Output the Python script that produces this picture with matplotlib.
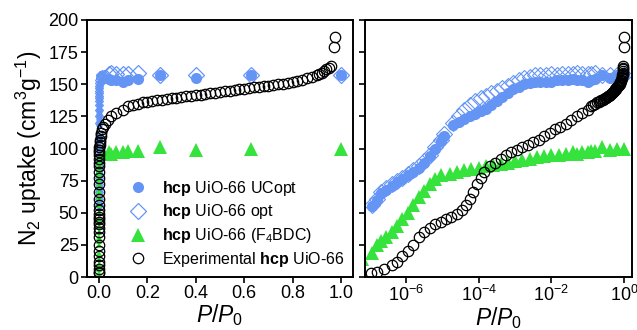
import matplotlib
matplotlib.use("Agg")
import matplotlib.pyplot as plt
import numpy as np
from matplotlib.ticker import NullLocator, LogFormatterSciNotation

plt.rcParams['font.family'] = ['Liberation Sans', 'DejaVu Sans']
plt.rcParams['mathtext.fontset'] = 'custom'
plt.rcParams['mathtext.rm'] = 'Liberation Sans'
plt.rcParams['mathtext.it'] = 'Liberation Sans:italic'
plt.rcParams['mathtext.bf'] = 'Liberation Sans:bold'

# simulated isotherms (P/P0, uptake in cm3/g)
p_sim = [1.12e-7, 1.58e-7, 2.0e-7, 2.82e-7, 3.98e-7, 5.62e-7, 7.94e-7, 1.12e-6,
         1.58e-6, 2.24e-6, 3.16e-6, 4.47e-6, 6.31e-6, 8.91e-6, 1.12e-5, 2.0e-5,
         2.82e-5, 3.98e-5, 5.62e-5, 7.94e-5, 1.12e-4, 1.58e-4, 2.24e-4, 3.16e-4,
         4.47e-4, 6.31e-4, 8.91e-4, 1.26e-3, 1.78e-3, 2.51e-3, 3.55e-3, 5.01e-3,
         7.08e-3, 0.01, 0.0141, 0.02, 0.0282, 0.04, 0.05, 0.07, 0.1, 0.12, 0.16,
         0.25, 0.4, 0.63, 1.0]
n_ucopt = [55, 60, 65, 68, 71, 74, 76, 79, 82, 85, 89, 94, 100, 106, 110, 118,
           121, 123, 125, 127, 129, 131, 134, 137, 140, 143, 146, 148, 150, 151,
           152, 152, 152, 152, 153, 153, 153, 154, 153, 153, 152, 153, 154,
           157, 155, 157, 157]
n_opt = [56, 61, 66, 69, 72, 75, 77, 80, 83, 86, 90, 95, 101, 107, 111, 120,
         125, 130, 134, 137, 139, 141, 143, 145, 147, 149, 151, 153, 155, 156,
         157, 157, 157, 158, 157, 158, 158, 158, 159, 158, 158, 158, 159,
         157, 157, 157, 157]

p_f4 = [1.0e-8, 2.0e-8, 3.5e-8, 6.0e-8,
        1.12e-7, 1.58e-7, 2.0e-7, 2.82e-7, 3.98e-7, 5.62e-7, 7.94e-7, 1.12e-6,
        1.58e-6, 2.24e-6, 3.16e-6, 4.47e-6, 6.31e-6, 8.91e-6, 1.58e-5, 2.51e-5,
        3.98e-5, 6.31e-5, 1.0e-4, 1.58e-4, 2.51e-4, 3.98e-4, 6.31e-4, 1.0e-3,
        1.58e-3, 2.51e-3, 3.98e-3, 6.31e-3, 0.01, 0.0158, 0.0251, 0.04, 0.05,
        0.07, 0.1, 0.12, 0.16, 0.25, 0.4, 0.63, 1.0]
n_f4 = [3, 6, 10, 14,
        19, 25, 28, 31, 35, 40, 45, 50, 56, 62, 67, 72, 76, 79, 80, 82, 83, 84,
        85, 86, 87, 88, 89, 90, 91, 92, 93, 94, 95, 95, 96, 97, 96, 97, 97, 98,
        98, 101, 99, 100, 100]

# experimental isotherm
p_exp = [1.07e-7, 1.58e-7, 2.51e-7, 3.98e-7, 5.62e-7, 7.94e-7, 1.12e-6, 1.58e-6,
         2.24e-6, 3.16e-6, 4.47e-6, 6.31e-6, 8.91e-6, 1.26e-5, 1.78e-5, 2.51e-5,
         3.55e-5, 4.47e-5, 5.62e-5, 7.08e-5, 8.91e-5, 1.12e-4, 1.41e-4, 2.0e-4,
         2.82e-4, 3.98e-4, 5.62e-4, 7.94e-4, 1.12e-3, 1.58e-3, 2.24e-3, 3.16e-3,
         4.47e-3, 6.31e-3, 8.91e-3, 0.0126, 0.0178, 0.0251, 0.0355, 0.0501,
         0.0708, 0.1, 0.12, 0.14, 0.16, 0.18, 0.2, 0.22, 0.24, 0.26, 0.28, 0.3,
         0.32, 0.34, 0.36, 0.38, 0.4, 0.42, 0.44, 0.46, 0.48, 0.5, 0.52, 0.54,
         0.56, 0.58, 0.6, 0.62, 0.64, 0.66, 0.68, 0.7, 0.72, 0.74, 0.76, 0.78,
         0.8, 0.82, 0.84, 0.86, 0.88, 0.9, 0.91, 0.92, 0.93, 0.94, 0.95, 0.96,
         0.97, 0.975]
n_exp = [3, 4, 6, 9, 12, 16, 20, 25, 31, 35, 38, 41, 43, 45, 47, 49, 52, 56,
         61, 66, 72, 77, 82, 86, 89, 92, 95, 97, 99, 101, 103, 105, 107, 110,
         112, 115, 117, 119, 122, 125, 128, 130, 133, 134, 135, 136, 136.5, 137,
         137.5, 138, 138.5, 139, 139.5, 140, 140.5, 141, 141.5, 142, 142.5, 143,
         143.5, 144, 144.5, 145, 145.5, 146, 146.5, 147, 147.5, 148, 148.5, 149,
         149.5, 150, 150.5, 151, 151.5, 152.5, 153.5, 154.5, 155.5, 157, 158,
         159, 160, 161.5, 163, 164, 179, 187]

blue = '#6495F5'
green = '#36E23C'
labels = [r'$\mathbf{hcp}$ UiO-66 UCopt', r'$\mathbf{hcp}$ UiO-66 opt',
          r'$\mathbf{hcp}$ UiO-66 (F$_4$BDC)', r'Experimental $\mathbf{hcp}$ UiO-66']

fig = plt.figure(figsize=(6.37, 3.3), dpi=100)
ax1 = fig.add_axes([87/637, 53/330, 266/637, 257/330])
ax2 = fig.add_axes([365/637, 53/330, 267/637, 257/330])

ps = np.array(p_sim)
pf = np.array(p_f4)
lo = ps < 0.04
lof = pf < 0.04

# left panel, linear
ax1.plot(ps[lo], np.array(n_ucopt)[lo], 'o', color=blue, ms=4.5, mew=0)
ax1.plot(ps[~lo], np.array(n_ucopt)[~lo], 'o', color=blue, ms=8, mew=0, label=labels[0])
ax1.plot(ps[lo], np.array(n_opt)[lo], 'D', mfc='none', mec=blue, ms=4, mew=0.9)
ax1.plot(ps[~lo], np.array(n_opt)[~lo], 'D', mfc='none', mec=blue, ms=8, mew=0.9, label=labels[1])
ax1.plot(pf[lof], np.array(n_f4)[lof], '^', color=green, ms=4.5, mew=0)
ax1.plot(pf[~lof], np.array(n_f4)[~lof], '^', color=green, ms=9.5, mew=0, label=labels[2])
ax1.plot(p_exp, n_exp, 'o', mfc='none', mec='black', ms=7.5, mew=0.9, label=labels[3])

# right panel, log
ax2.plot(p_sim, n_ucopt, 'o', color=blue, ms=8, mew=0)
ax2.plot(p_sim, n_opt, 'D', mfc='none', mec=blue, ms=8, mew=0.8)
ax2.plot(p_f4, n_f4, '^', color=green, ms=9.5, mew=0)
ax2.plot(p_exp, n_exp, 'o', mfc='none', mec='black', ms=7.5, mew=0.9)

ax1.set_xlim(-0.05, 1.05)
ax1.set_ylim(0, 200)
ax1.set_xticks([0, 0.2, 0.4, 0.6, 0.8, 1.0])
ax1.set_xticklabels(['0.0', '0.2', '0.4', '0.6', '0.8', '1.0'])
ax1.set_yticks(range(0, 201, 25))
ax1.set_ylabel(r'N$_2$ uptake (cm$^3$g$^{-1}$)', fontsize=16.5, labelpad=3)
ax1.set_xlabel(r'$P/P_0$', fontsize=16.5, labelpad=0)

ax2.set_xscale('log')
ax2.set_xlim(7.4e-8, 1.66)
ax2.set_ylim(0, 200)
ax2.set_xticks([1e-6, 1e-4, 1e-2, 1])
ax2.xaxis.set_major_formatter(LogFormatterSciNotation())
ax2.xaxis.set_minor_locator(NullLocator())
ax2.set_yticks(range(0, 201, 25))
ax2.set_yticklabels([])
ax2.set_xlabel(r'$P/P_0$', fontsize=16.5, labelpad=0)

for ax in (ax1, ax2):
    for s in ax.spines.values():
        s.set_linewidth(1.4)
    ax.tick_params(direction='out', length=4, width=1.2, labelsize=13, pad=2)

ax1.legend(loc='lower left', bbox_to_anchor=(0.1, 0.0), frameon=False,
           fontsize=11.5, numpoints=1, borderpad=0, handlelength=2.0,
           handletextpad=0.5, labelspacing=0.3)

fig.savefig('out.png', dpi=100)
